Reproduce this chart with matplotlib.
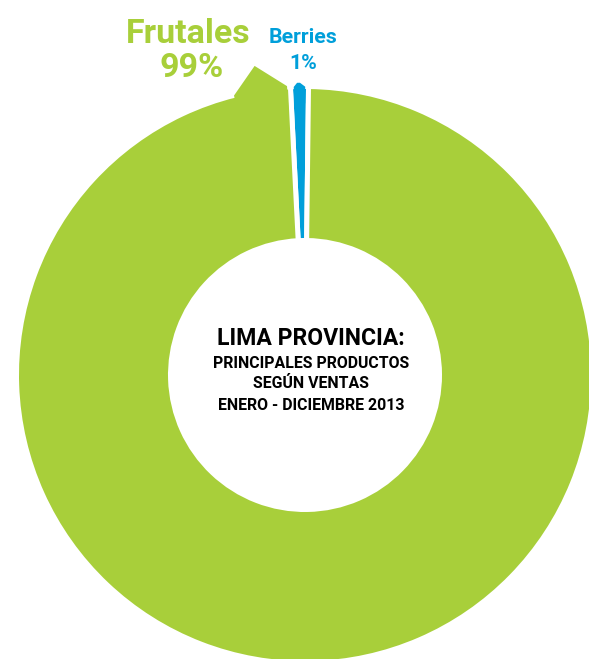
import numpy as np
import matplotlib
matplotlib.use("Agg")
import matplotlib.pyplot as plt
from matplotlib.patches import Polygon

# Sales share by product group, Lima Provincia, Jan-Dec 2013
categories = ["Berries", "Frutales"]
shares = [1, 99]
share_labels = ["1%", "99%"]
colors = ["#009FDA", "#A8CF3A"]

title_lines = ["LIMA PROVINCIA:", "PRINCIPALES PRODUCTOS", "SEGÚN VENTAS", "ENERO - DICIEMBRE 2013"]

W, H = 589, 659
DPI = 100
fig = plt.figure(figsize=(W / DPI, H / DPI), dpi=DPI)
ax = fig.add_axes([0, 0, 1, 1])

# donut geometry in pixels (centre from top-left) and radii
cx, cy = 305, 375
r_out_px, r_in_px = 286, 137
gap_px = 5
lw_pt = gap_px * 72 / DPI
start = 89.3

wedges, _ = ax.pie(
    shares, colors=colors, startangle=start, counterclock=True,
    radius=1 + (gap_px / 2) / r_out_px,
    wedgeprops=dict(width=(r_out_px - r_in_px + gap_px) / r_out_px,
                    edgecolor="white", linewidth=lw_pt),
)

def polar(r, deg):
    a = np.deg2rad(deg)
    return (r * np.cos(a), r * np.sin(a))

half_gap = np.rad2deg((gap_px / 2 + 0.8) / r_out_px)

# callout tip on the Frutales ring pointing at its label
g0 = wedges[1].theta1 + half_gap
green_tip = [polar(0.93, g0), polar(1.012, g0), polar(1.095, g0 + 5.7),
             polar(1.008, g0 + 10.7), polar(0.93, g0 + 10.7)]
ax.add_patch(Polygon(green_tip, closed=True, facecolor=colors[1],
                     edgecolor="none", zorder=5))

# small tip on the Berries slice
b0 = wedges[0].theta1 + half_gap
b1 = wedges[0].theta2 - half_gap
blue_tip = [polar(0.95, b0), polar(1.008, b0), polar(1.022, b0 + 0.45 * (b1 - b0)),
            polar(1.022, b0 + 0.7 * (b1 - b0)), polar(1.008, b1), polar(0.95, b1)]
ax.add_patch(Polygon(blue_tip, closed=True, facecolor=colors[0],
                     edgecolor="none", zorder=5))

ax.set_xlim(-cx / r_out_px, (W - cx) / r_out_px)
ax.set_ylim(-(H - cy) / r_out_px, cy / r_out_px)
ax.set_aspect("auto")
ax.axis("off")

def fig_xy(px, py):
    return px / W, 1 - py / H

font = ["Roboto", "DejaVu Sans"]

# labels (baseline positions in pixels from the top)
fig.text(*fig_xy(188, 43), categories[1], color=colors[1], fontsize=24.5,
         fontweight="bold", family=font, ha="center", va="baseline")
fig.text(*fig_xy(192, 77), share_labels[1], color=colors[1], fontsize=24.5,
         fontweight="bold", family=font, ha="center", va="baseline")
fig.text(*fig_xy(303, 43), categories[0], color=colors[0], fontsize=15.3,
         fontweight="bold", family=font, ha="center", va="baseline")
fig.text(*fig_xy(303, 69), share_labels[0], color=colors[0], fontsize=15.3,
         fontweight="bold", family=font, ha="center", va="baseline")

# centre title
baselines = [345, 368, 388, 410]
sizes = [16.6, 11.4, 11.4, 11.4]
for line, by, fs in zip(title_lines, baselines, sizes):
    fig.text(*fig_xy(311, by), line, color="black", fontsize=fs,
             fontweight="bold", family=font, ha="center", va="baseline")

fig.savefig("out.png", dpi=DPI)
